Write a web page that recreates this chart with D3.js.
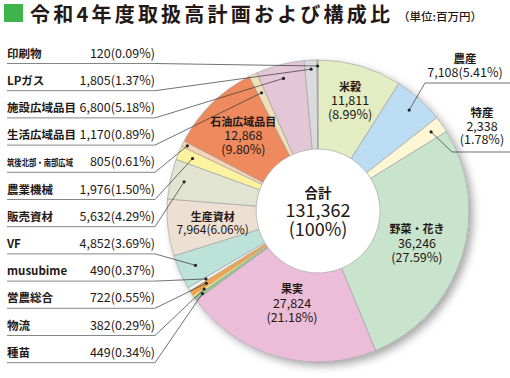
<!DOCTYPE html>
<html><head><meta charset="utf-8">
<script src="https://cdn.jsdelivr.net/npm/d3@7"></script>
<style>
body{margin:0;background:#fff;}
text{font-family:"Noto Sans CJK JP","Noto Sans",sans-serif;fill:#231815;}
</style></head><body><svg id="chart"></svg>
<script>
var w = 510, h = 378;
var cx = 318, cy = 211, rOut = 151, rIn = 62;

// slices, clockwise from 12 o'clock
var names = ["米穀","農産","特産","野菜・花き","果実","種苗","物流","営農総合","musubime","VF","生産資材","販売資材","農業機械","筑後北部・南部広域","石油広域品目","生活広域品目","施設広域品目","LPガス","印刷物"];
var amounts = [11811,7108,2338,36246,27824,449,382,722,490,4852,7964,5632,1976,805,12868,1170,6800,1805,120];
var shares = [8.99,5.41,1.78,27.59,21.18,0.34,0.29,0.55,0.37,3.69,6.06,4.29,1.50,0.61,9.80,0.89,5.18,1.37,0.09];
var total = 131362;
var colors = ["#e4ecc3","#bcdcf3","#fdf8d3","#c9e4cc","#ecbdd9","#8ecb95","#f8e07a","#f5a44c","#f3f3f3","#bde3d9","#eddfd1","#e1e4d1","#fcf3a1","#f8d3b4","#ee8a5d","#eee0b7","#e4c7d6","#dbdadf","#b5b3cd"];

// labels listed at left, top to bottom
var leftList = ["印刷物","LPガス","施設広域品目","生活広域品目","筑後北部・南部広域","農業機械","販売資材","VF","musubime","営農総合","物流","種苗"];
var insideList = ["米穀","石油広域品目","生産資材","野菜・花き","果実"];
var rightList = ["農産","特産"];

// layout bits (radius of leader dot / inside label)
var dotR = {"印刷物":145,"LPガス":142,"施設広域品目":137,"生活広域品目":131,"筑後北部・南部広域":146,"農業機械":136,"販売資材":137,"VF":134,"musubime":131,"営農総合":133,"物流":138,"種苗":142,"農産":136,"特産":138};
var labR = {"米穀":115,"石油広域品目":106,"生産資材":106,"野菜・花き":104,"果実":96};
var rightPos = {"農産":{x:465, y:63, ly:83, lx:425}, "特産":{x:482, y:117, ly:152, lx:452}};

var fmt = d3.format(",");
function pct(v){ return "(" + v.toFixed(2) + "%)"; }

var data = names.map(function(n,i){ return {name:n, amount:amounts[i], share:shares[i], color:colors[i]}; });

var svg = d3.select("#chart").attr("width", w).attr("height", h);

var defs = svg.append("defs");
var f = defs.append("filter").attr("id","shadow").attr("x","-20%").attr("y","-20%").attr("width","140%").attr("height","140%");
f.append("feDropShadow").attr("dx",4).attr("dy",4).attr("stdDeviation",4).attr("flood-color","#000").attr("flood-opacity",0.35);

// title
svg.append("rect").attr("x",4).attr("y",4).attr("width",19).attr("height",18).attr("fill","#3db54a");
svg.append("text").attr("x",30).attr("y",22).attr("font-size",20).attr("font-weight",700)
  .attr("textLength",360).attr("lengthAdjust","spacing")
  .text("令和4年度取扱高計画および構成比");
svg.append("text").attr("x",398).attr("y",21).attr("font-size",11.5).attr("font-weight",500)
  .text("（単位:百万円）");

var pie = d3.pie().sort(null).value(function(d){ return d.amount; });
var arcs = pie(data);
var byName = {};
arcs.forEach(function(a){ byName[a.data.name] = a; });
var arc = d3.arc().innerRadius(rIn).outerRadius(rOut);

function pt(a, r){ return [cx + r*Math.sin(a), cy - r*Math.cos(a)]; }
function mid(a){ return (a.startAngle + a.endAngle)/2; }

var g = svg.append("g").attr("transform","translate(" + cx + "," + cy + ")");
g.append("circle").attr("r", rOut).attr("fill","#fff").attr("filter","url(#shadow)");
g.selectAll("path.slice").data(arcs).enter().append("path")
  .attr("class","slice")
  .attr("d", arc)
  .attr("fill", function(d){ return d.data.color; })
  .attr("stroke","#9a9a9a").attr("stroke-width",0.6);

// center total
svg.append("text").attr("x",cx).attr("y",198).attr("text-anchor","middle").attr("font-size",13.5).attr("font-weight",700).text("合計");
svg.append("text").attr("x",cx).attr("y",217).attr("text-anchor","middle").attr("font-size",18).text(fmt(total));
svg.append("text").attr("x",cx).attr("y",236).attr("text-anchor","middle").attr("font-size",18).text("(100%)");

// inside labels
insideList.forEach(function(n){
  var a = byName[n], p = pt(mid(a), labR[n]);
  var t = svg.append("g").attr("transform","translate(" + p[0] + "," + p[1] + ")");
  if (n === "生産資材") {
    t.append("text").attr("y",-2).attr("text-anchor","middle").attr("font-size",11).attr("font-weight",700).text(n);
    t.append("text").attr("y",11).attr("text-anchor","middle").attr("font-size",12).attr("fill","#333").text(fmt(a.data.amount) + pct(a.data.share));
  } else {
    t.append("text").attr("y",-10).attr("text-anchor","middle").attr("font-size",11).attr("font-weight",700).text(n);
    t.append("text").attr("y",4.5).attr("text-anchor","middle").attr("font-size",12.5).attr("fill","#333").text(fmt(a.data.amount));
    t.append("text").attr("y",18.5).attr("text-anchor","middle").attr("font-size",12.5).attr("fill","#333").text(pct(a.data.share));
  }
});

// left list with leaders
var row0 = 63.5, rowH = 27.2, lx0 = 7, lx1 = 155;
leftList.forEach(function(n, i){
  var a = byName[n], uy = row0 + i*rowH, p = pt(mid(a), dotR[n]);
  var small = (n === "筑後北部・南部広域");
  var lab = svg.append("text").attr("x",lx0).attr("y",uy - 6).attr("font-size", small ? 9.5 : 11.5).attr("font-weight",700).text(n);
  if (small) lab.attr("textLength",66).attr("lengthAdjust","spacingAndGlyphs");
  svg.append("text").attr("x",lx1).attr("y",uy - 6).attr("text-anchor","end").attr("font-size",12.5).attr("fill","#333")
    .text(fmt(a.data.amount) + pct(a.data.share));
  svg.append("line").attr("x1",lx0).attr("x2",lx1).attr("y1",uy).attr("y2",uy).attr("stroke","#777").attr("stroke-width",0.9);
  svg.append("line").attr("x1",lx1).attr("y1",uy).attr("x2",p[0]).attr("y2",p[1]).attr("stroke","#333").attr("stroke-width",0.7);
  svg.append("circle").attr("cx",p[0]).attr("cy",p[1]).attr("r",1.6).attr("fill","#222");
});

// right labels
rightList.forEach(function(n){
  var a = byName[n], rp = rightPos[n], p = pt(mid(a), dotR[n]);
  svg.append("text").attr("x",rp.x).attr("y",rp.y).attr("text-anchor","middle").attr("font-size",11.5).attr("font-weight",700).text(n);
  if (n === "農産") {
    svg.append("text").attr("x",rp.x).attr("y",rp.y + 14).attr("text-anchor","middle").attr("font-size",12.5).attr("fill","#333").text(fmt(a.data.amount) + pct(a.data.share));
  } else {
    svg.append("text").attr("x",rp.x).attr("y",rp.y + 13.5).attr("text-anchor","middle").attr("font-size",12.5).attr("fill","#333").text(fmt(a.data.amount));
    svg.append("text").attr("x",rp.x).attr("y",rp.y + 27).attr("text-anchor","middle").attr("font-size",12.5).attr("fill","#333").text(pct(a.data.share));
  }
  svg.append("polyline").attr("points", [[w, rp.ly],[rp.lx, rp.ly],p].map(function(q){ return q.join(","); }).join(" "))
    .attr("fill","none").attr("stroke","#333").attr("stroke-width",0.7);
  svg.append("circle").attr("cx",p[0]).attr("cy",p[1]).attr("r",1.6).attr("fill","#222");
});
</script></body></html>
